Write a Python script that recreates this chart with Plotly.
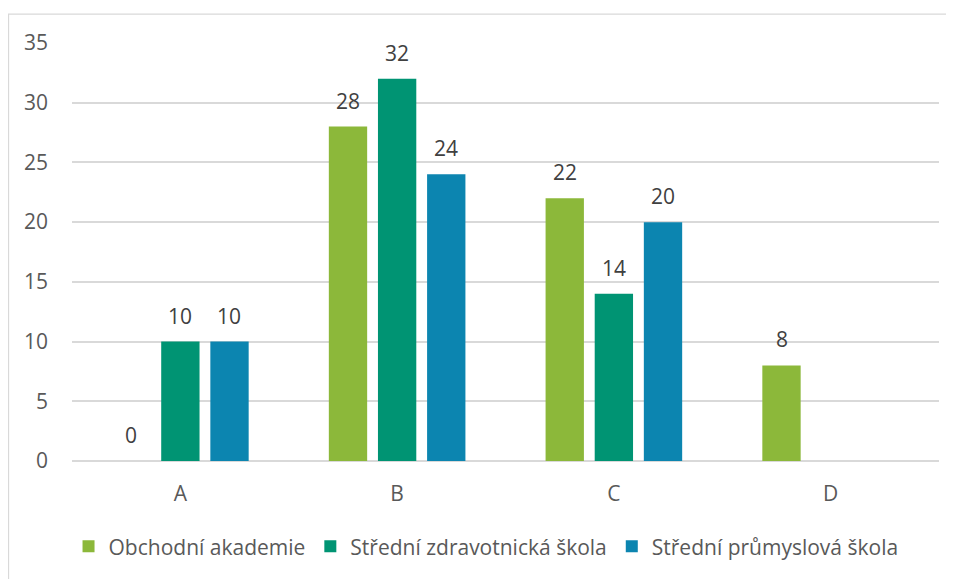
import plotly.graph_objects as go

categories = ["A", "B", "C", "D"]
series_names = ["Obchodní akademie", "Střední zdravotnická škola", "Střední průmyslová škola"]
obchodni = [0, 28, 22, 8]
zdravotnicka = [10, 32, 14, None]
prumyslova = [10, 24, 20, None]
y_ticks = [0, 5, 10, 15, 20, 25, 30, 35]

series_values = [obchodni, zdravotnicka, prumyslova]
colors = ["#8CB83A", "#009473", "#0C85B0"]
FONT = "Open Sans"
FS = 21

fig = go.Figure()
for name, vals, col in zip(series_names, series_values, colors):
    fig.add_trace(go.Bar(
        x=categories, y=vals, name=name,
        marker=dict(color=col, line=dict(width=0)),
    ))

annotations = []
offsets = [-49, 0, 49]
for vals, off in zip(series_values, offsets):
    for c, v in zip(categories, vals):
        if v is None:
            continue
        annotations.append(dict(
            x=c, y=v, xref="x", yref="y", text=str(v), showarrow=False,
            xshift=off, yshift=26, yanchor="middle",
            font=dict(family=FONT, size=FS, color="#404040"),
        ))

fig.update_layout(
    width=946, height=571,
    margin=dict(l=64, r=15, t=35, b=116),
    paper_bgcolor="white", plot_bgcolor="white",
    barmode="group", bargap=0.32, bargroupgap=0.22,
    font=dict(family=FONT, size=FS, color="#595959"),
    showlegend=True,
    legend=dict(orientation="h", x=-0.004, xanchor="left", y=-0.205, yanchor="middle",
                font=dict(family=FONT, size=FS, color="#595959"), itemwidth=30,
                traceorder="normal"),
    annotations=annotations,
    shapes=[dict(type="rect", xref="paper", yref="paper",
                 x0=(8.5 - 72) / 867, x1=1.2, y0=-0.3, y1=(463 - 14) / 420,
                 line=dict(color="#D9D9D9", width=1.3), layer="below")],
)
fig.update_xaxes(showgrid=False, showline=False, ticks="", ticklabelstandoff=18,
                 tickfont=dict(size=FS, color="#595959"))
fig.update_yaxes(range=[0, 35], tickvals=y_ticks, showgrid=True, gridcolor="#D9D9D9", gridwidth=1.5,
                 zeroline=True, zerolinecolor="#D9D9D9", zerolinewidth=1.5,
                 showline=False, ticks="", ticklabelstandoff=23,
                 tickfont=dict(size=FS, color="#595959"))

fig.write_html("out.html")
